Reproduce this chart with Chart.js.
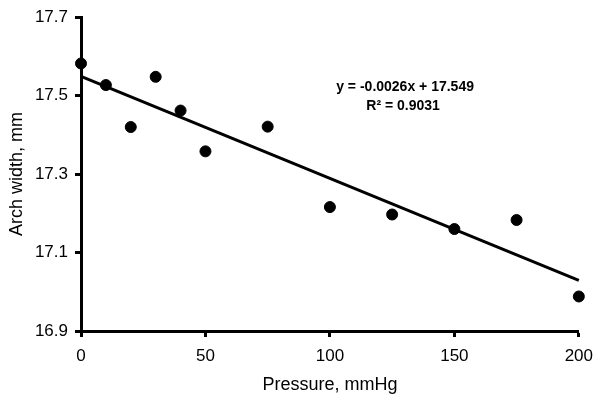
<!DOCTYPE html>
<html><head><meta charset="utf-8">
<script src="https://cdn.jsdelivr.net/npm/chart.js@4/dist/chart.umd.min.js"></script>
<style>html,body{margin:0;padding:0;background:#fff}#wrap{width:602px;height:404px}</style>
</head><body><div id="wrap"><canvas id="c" width="602" height="404"></canvas></div>
<script>
const pressure = [0, 10, 20, 30, 40, 50, 75, 100, 125, 150, 175, 200];
const archWidth = [17.582, 17.527, 17.420, 17.548, 17.462, 17.358, 17.421, 17.216, 17.197, 17.160, 17.183, 16.988];
const xTicks = [0, 50, 100, 150, 200];
const yTicks = [16.9, 17.1, 17.3, 17.5, 17.7];
const trendSlope = -0.0026;
const trendIntercept = 17.549;
const trendX = [0, 200];
const equationLine1 = 'y = -0.0026x + 17.549';
const equationLine2 = 'R² = 0.9031';
const xTitle = 'Pressure, mmHg';
const yTitle = 'Arch width, mm';

const FONT = "'Liberation Sans', Arial, sans-serif";

const equationPlugin = {
  id: 'equation',
  afterDatasetsDraw(chart) {
    const {ctx, chartArea: a} = chart;
    const cx = a.left + (a.right - a.left) * 0.651;
    const h = a.bottom - a.top;
    ctx.save();
    ctx.fillStyle = '#000';
    ctx.font = 'bold 14px ' + FONT;
    ctx.textAlign = 'center';
    ctx.textBaseline = 'middle';
    ctx.fillText(equationLine1, cx, a.top + h * 0.2215);
    ctx.fillText(equationLine2, cx - 2, a.top + h * 0.284);
    ctx.restore();
  }
};

new Chart(document.getElementById('c'), {
  type: 'scatter',
  data: {
    datasets: [
      {
        label: 'data',
        data: pressure.map((x, i) => ({x: x, y: archWidth[i]})),
        backgroundColor: '#000',
        borderColor: '#000',
        pointRadius: 5.5,
        pointHoverRadius: 5.5,
        clip: false
      },
      {
        label: 'trend',
        type: 'line',
        data: trendX.map(x => ({x: x, y: trendSlope * x + trendIntercept})),
        borderColor: '#000',
        borderWidth: 3,
        pointRadius: 0,
        fill: false,
        clip: false
      }
    ]
  },
  options: {
    responsive: false,
    animation: false,
    devicePixelRatio: 1,
    layout: {padding: {top: 15, right: 23, left: 0, bottom: 0}},
    plugins: {legend: {display: false}, tooltip: {enabled: false}},
    scales: {
      x: {
        type: 'linear',
        min: 0, max: 200,
        afterBuildTicks: s => { s.ticks = xTicks.map(v => ({value: v})); },
        afterFit: s => { s.height = 73; },
        border: {display: true, color: '#000', width: 3},
        grid: {display: true, drawOnChartArea: false, drawTicks: true, tickLength: 6, tickWidth: 3, tickColor: '#000'},
        ticks: {color: '#000', font: {family: FONT, size: 17}, padding: 9, maxRotation: 0,
                callback: v => String(v)},
        title: {display: true, text: xTitle, color: '#000', font: {family: FONT, size: 18}, padding: {top: 0, bottom: 8}}
      },
      y: {
        type: 'linear',
        min: 16.9, max: 17.7,
        afterBuildTicks: s => { s.ticks = yTicks.map(v => ({value: v})); },
        afterFit: s => { s.width = 81; },
        border: {display: true, color: '#000', width: 3},
        grid: {display: true, drawOnChartArea: false, drawTicks: true, tickLength: 6, tickWidth: 3, tickColor: '#000'},
        ticks: {color: '#000', font: {family: FONT, size: 17}, padding: 7,
                callback: v => Number(v).toFixed(1)},
        title: {display: true, text: yTitle, color: '#000', font: {family: FONT, size: 18}, padding: {top: 6, bottom: 0}}
      }
    }
  },
  plugins: [equationPlugin]
});
</script></body></html>
